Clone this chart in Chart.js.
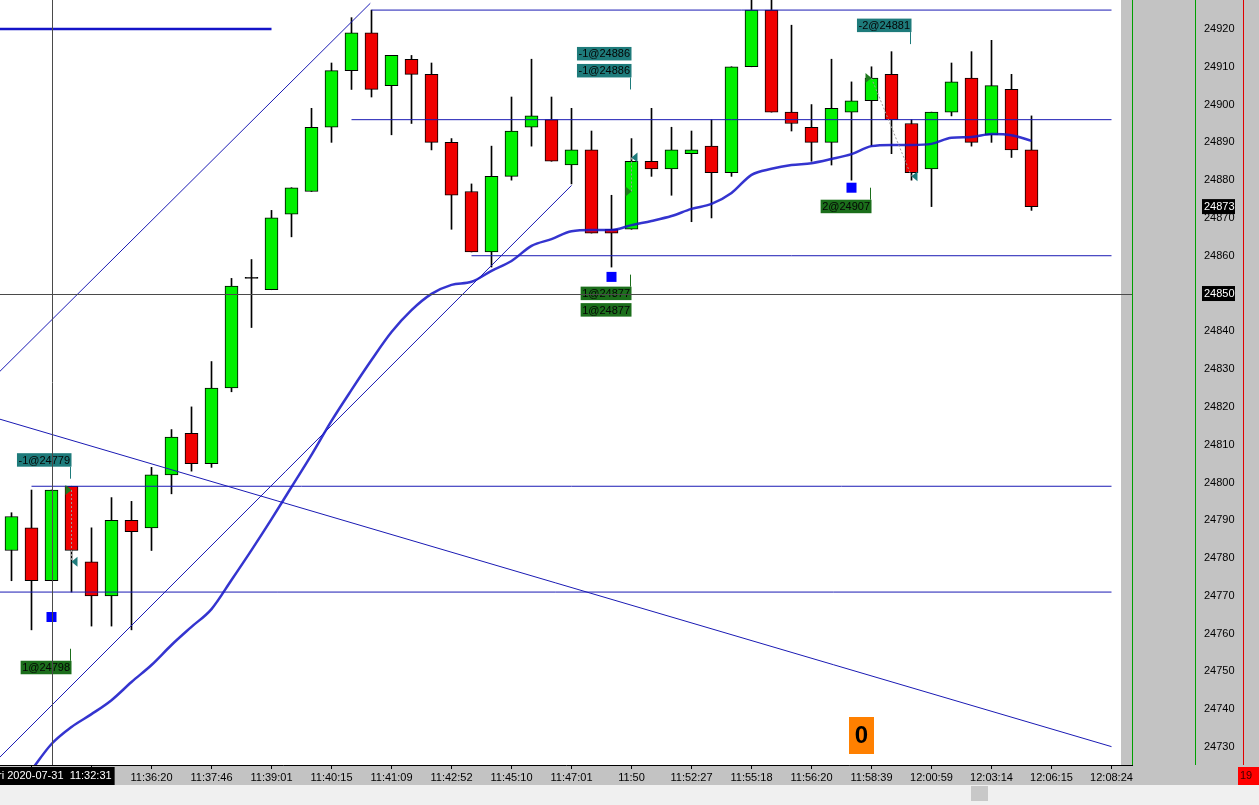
<!DOCTYPE html>
<html>
<head>
<meta charset="utf-8">
<script src="https://cdn.jsdelivr.net/npm/chart.js@4.4.0/dist/chart.umd.min.js"></script>
<style>
html, body { margin: 0; padding: 0; background: #c3c3c3; overflow: hidden; }
#contenedor { width: 1259px; height: 805px; }
</style>
</head>
<body>
<div id="contenedor"><canvas id="grafico" width="1259" height="805"></canvas></div>
<script>
// velas de 1 minuto aprox, indice 0..51
var aperturas = [24782, 24788, 24774, 24799, 24779, 24770, 24790, 24788, 24802, 24813,
    24805, 24825, 24854, 24851, 24871, 24877, 24894, 24909, 24919, 24905,
    24912, 24908, 24890, 24877, 24861, 24881, 24894, 24896, 24884, 24888,
    24867, 24867, 24885, 24883, 24887, 24889, 24882, 24910, 24925, 24898,
    24894, 24890, 24898, 24901, 24908, 24895, 24883, 24898, 24907, 24892,
    24904, 24888];
var maximos = [24792, 24798, 24798, 24799, 24788, 24796, 24795, 24804, 24814, 24820,
    24832, 24854, 24859, 24872, 24878, 24899, 24911, 24923, 24925, 24913,
    24913, 24911, 24891, 24879, 24889, 24902, 24912, 24902, 24899, 24893,
    24876, 24891, 24899, 24894, 24893, 24896, 24910, 24928, 24928, 24921,
    24900, 24912, 24906, 24910, 24914, 24896, 24898, 24911, 24914, 24917,
    24908, 24897];
var minimos = [24774, 24761, 24774, 24771, 24762, 24762, 24761, 24782, 24797, 24803,
    24804, 24824, 24841, 24851, 24865, 24877, 24890, 24904, 24902, 24892,
    24895, 24888, 24867, 24861, 24857, 24880, 24889, 24885, 24879, 24866,
    24857, 24867, 24881, 24876, 24869, 24870, 24881, 24910, 24898, 24893,
    24885, 24884, 24880, 24889, 24887, 24880, 24873, 24897, 24889, 24890,
    24886, 24872];
var cierres = [24791, 24774, 24798, 24782, 24770, 24790, 24787, 24802, 24812, 24805,
    24825, 24852, 24854, 24870, 24878, 24894, 24909, 24919, 24904, 24913,
    24908, 24890, 24876, 24861, 24881, 24893, 24897, 24885, 24888, 24866,
    24866, 24885, 24883, 24888, 24888, 24882, 24910, 24925, 24898, 24895,
    24890, 24899, 24901, 24907, 24896, 24882, 24898, 24906, 24890, 24905,
    24888, 24873];
// media movil (linea azul gruesa)
var media = [24717.0, 24723.9, 24730.8, 24735.3, 24738.7, 24742.4, 24747.2, 24751.7, 24757.0, 24761.8,
    24766.5, 24774.2, 24782.1, 24790.3, 24798.8, 24807.3, 24816.3, 24824.5, 24832.4, 24839.8,
    24845.6, 24849.9, 24852.3, 24853.1, 24856.0, 24858.6, 24862.6, 24864.4, 24866.5, 24866.8,
    24866.8, 24868.1, 24869.2, 24870.5, 24872.4, 24873.7, 24876.6, 24881.4, 24883.0, 24884.0,
    24884.5, 24885.6, 24886.9, 24889.0, 24889.3, 24889.3, 24889.6, 24891.2, 24891.4, 24892.2,
    24891.9, 24890.4];

var ticksY = [24730, 24740, 24750, 24760, 24770, 24780, 24790, 24800, 24810, 24820,
    24830, 24840, 24850, 24860, 24870, 24880, 24890, 24900, 24910, 24920];
var ticksXIdx = [1, 4, 7, 10, 13, 16, 19, 22, 25, 28, 31, 34, 37, 40, 43, 46, 49, 52, 55];
var ticksXTxt = ['', '', '11:36:20', '11:37:46', '11:39:01', '11:40:15', '11:41:09', '11:42:52',
    '11:45:10', '11:47:01', '11:50', '11:52:27', '11:55:18', '11:56:20', '11:58:39',
    '12:00:59', '12:03:14', '12:06:15', '12:08:24'];

// lineas dibujadas a mano
var horizPrecio = [24925, 24896, 24860, 24799, 24771];
var horizDesde = [18, 17, 23, 1, -1];
var horizHasta = [55, 55, 55, 55, 55];
var gruesaPrecio = 24920;
var gruesaDesde = -1;
var gruesaHasta = 13;
var diagDesde = [-1, -1, -1];
var diagPrecioDesde = [24827.2, 24725.1, 24817.4];
var diagHasta = [17.94, 28, 55];
var diagPrecioHasta = [24926.8, 24878.6, 24730.1];

// operaciones
var ordenIdx = [2, 30, 42];
var ordenPrecio = [24764.4, 24854.4, 24878.0];
var entradaIdx = [3, 31, 43];
var entradaPrecio = [24798, 24877, 24907];
var salidaIdx = [3, 31, 45];
var salidaPrecio = [24779, 24886, 24881];
var ventaTxt = ['-1@24779', '-1@24886', '-1@24886', '-2@24881'];
var ventaIdx = [3, 31, 31, 45];
var ventaPrecio = [24801, 24904, 24904, 24916];
var compraTxt = ['1@24798', '1@24877', '1@24877', '2@24907'];
var compraIdx = [3, 31, 31, 43];
var compraPrecio = [24756, 24855, 24855, 24878];

var cursorIdx = 2;
var cursorPrecio = 24850;
var cursorTxt = 'Fri 2020-07-31  11:32:31';

var FUENTE = '"Liberation Sans", Arial, sans-serif';
var VERDE = '#00f000';
var ROJO = '#f00000';
var AZUL = '#1a1ab4';

function puntos(a, b, pa, pb) {
    return [{ x: a, y: pa }, { x: b, y: pb }];
}

function etiqueta(c, txt, xDer, yArriba, color) {
    c.font = '11px ' + FUENTE;
    var w = c.measureText(txt).width + 3;
    c.fillStyle = color;
    c.fillRect(xDer - w, yArriba, w, 13.5);
    c.fillStyle = '#050505';
    c.textAlign = 'left';
    c.textBaseline = 'middle';
    c.fillText(txt, xDer - w + 1.5, yArriba + 7.5);
}

function triangulo(c, x, y, dir, color) {
    c.beginPath();
    c.moveTo(x - 6 * dir, y - 5);
    c.lineTo(x, y);
    c.lineTo(x - 6 * dir, y + 5);
    c.closePath();
    c.fillStyle = color;
    c.fill();
}

var fondo = {
    id: 'fondo',
    beforeDraw: function (chart) {
        var c = chart.ctx, a = chart.chartArea;
        c.save();
        c.fillStyle = '#c3c3c3';
        c.fillRect(0, 0, chart.width, chart.height);
        c.fillStyle = '#ffffff';
        c.fillRect(a.left, a.top, a.right - 11 - a.left, a.bottom - a.top);
        c.fillStyle = '#f0f0f0';
        c.fillRect(0, a.bottom + 20, chart.width, chart.height - a.bottom - 20);
        c.fillStyle = '#c8c8c8';
        c.fillRect(971, a.bottom + 21, 17, 15);
        c.restore();
    }
};

var marcas = {
    id: 'marcas',
    afterDatasetsDraw: function (chart) {
        var c = chart.ctx, a = chart.chartArea;
        var sx = chart.scales.x, sy = chart.scales.y;
        var i, k, x, y;
        c.save();
        c.beginPath();
        c.rect(a.left, a.top, a.right - a.left, a.bottom - a.top);
        c.clip();

        // lineas entre entrada y salida
        c.setLineDash([2, 2]);
        c.strokeStyle = '#9a9a9a';
        c.lineWidth = 1;
        for (i = 0; i < entradaIdx.length; i++) {
            c.beginPath();
            c.moveTo(sx.getPixelForValue(entradaIdx[i]), sy.getPixelForValue(entradaPrecio[i]));
            c.lineTo(sx.getPixelForValue(salidaIdx[i]), sy.getPixelForValue(salidaPrecio[i]));
            c.stroke();
        }
        c.setLineDash([]);

        for (i = 0; i < entradaIdx.length; i++) {
            triangulo(c, sx.getPixelForValue(entradaIdx[i]), sy.getPixelForValue(entradaPrecio[i]), 1, '#1f7a1f');
            triangulo(c, sx.getPixelForValue(salidaIdx[i]), sy.getPixelForValue(salidaPrecio[i]), -1, '#1e7b7b');
        }

        c.fillStyle = '#0000ff';
        for (i = 0; i < ordenIdx.length; i++) {
            x = sx.getPixelForValue(ordenIdx[i]);
            y = sy.getPixelForValue(ordenPrecio[i]);
            c.fillRect(x - 5, y - 5, 10, 10);
        }

        // etiquetas de ventas (encima)
        var vistos = {};
        for (i = 0; i < ventaTxt.length; i++) {
            k = vistos[ventaIdx[i]] || 0;
            vistos[ventaIdx[i]] = k + 1;
            x = sx.getPixelForValue(ventaIdx[i]);
            y = sy.getPixelForValue(ventaPrecio[i]);
            if (k === 0) {
                c.fillStyle = '#1e7b7b';
                c.fillRect(x - 1.5, y - 12, 1, 12);
            }
            etiqueta(c, ventaTxt[i], x, y - 12 - 13.5 - k * 17, '#1e7b7b');
        }
        vistos = {};
        for (i = 0; i < compraTxt.length; i++) {
            k = vistos[compraIdx[i]] || 0;
            vistos[compraIdx[i]] = k + 1;
            x = sx.getPixelForValue(compraIdx[i]);
            y = sy.getPixelForValue(compraPrecio[i]);
            if (k === 0) {
                c.fillStyle = '#1b6e1b';
                c.fillRect(x - 1.5, y, 1, 12);
            }
            etiqueta(c, compraTxt[i], x, y + 12 + k * 16.5, '#1b6e1b');
        }
        c.restore();

        // cursor
        c.save();
        c.strokeStyle = '#4a4a4a';
        c.lineWidth = 1;
        x = Math.round(sx.getPixelForValue(cursorIdx)) + 0.5;
        y = Math.round(sy.getPixelForValue(cursorPrecio)) + 0.5;
        c.beginPath();
        c.moveTo(x, a.top);
        c.lineTo(x, a.bottom);
        c.moveTo(a.left, y);
        c.lineTo(a.right, y);
        c.stroke();
        c.restore();
    },
    afterDraw: function (chart) {
        var c = chart.ctx, a = chart.chartArea;
        var sx = chart.scales.x, sy = chart.scales.y;
        var x, y, w;
        c.save();
        // lineas del panel derecho
        c.fillStyle = '#00a000';
        c.fillRect(a.right, 0, 1, a.bottom);
        c.fillRect(a.right + 63, 0, 1, a.bottom);
        c.fillStyle = '#e00000';
        c.fillRect(a.right + 111, 0, 1, a.bottom);

        c.font = '11px ' + FUENTE;
        c.textBaseline = 'middle';
        c.textAlign = 'left';
        // ultimo precio
        var ultimo = cierres[cierres.length - 1];
        y = sy.getPixelForValue(ultimo);
        c.fillStyle = '#000';
        c.fillRect(a.right + 70, y - 7.5, 33, 15);
        c.fillStyle = '#fff';
        c.fillText(String(ultimo), a.right + 72, y + 0.5);
        // precio del cursor
        y = sy.getPixelForValue(cursorPrecio);
        c.fillStyle = '#000';
        c.fillRect(a.right + 70, y - 7.5, 33, 15);
        c.fillStyle = '#fff';
        c.fillText(String(cursorPrecio), a.right + 72, y + 0.5);
        // hora del cursor
        x = sx.getPixelForValue(cursorIdx);
        w = c.measureText(cursorTxt).width + 6;
        c.fillStyle = '#000';
        c.fillRect(x - w / 2, a.bottom + 2, w, 18);
        c.fillStyle = '#fff';
        c.fillText(cursorTxt, x - w / 2 + 3, a.bottom + 11);
        // caja roja
        c.fillStyle = '#ff0000';
        c.fillRect(a.right + 106, a.bottom + 2, 30, 18);
        c.fillStyle = '#400000';
        c.fillText('19', a.right + 108, a.bottom + 11);
        // caja naranja (PnL)
        c.fillStyle = '#ff8000';
        c.fillRect(849, a.bottom - 48, 25, 37);
        c.fillStyle = '#000';
        c.font = 'bold 24px ' + FUENTE;
        c.textAlign = 'center';
        c.fillText('0', 861.5, a.bottom - 29);
        c.restore();
    }
};

var datasets = [];
datasets.push({
    type: 'bar',
    label: 'mechas',
    data: maximos.map(function (h, i) { return { x: i, y: [minimos[i], h] }; }),
    backgroundColor: '#000',
    barThickness: 1,
    grouped: false,
    order: 6
});
datasets.push({
    type: 'bar',
    label: 'velas',
    data: aperturas.map(function (o, i) { return { x: i, y: [o, cierres[i]] }; }),
    backgroundColor: aperturas.map(function (o, i) {
        if (cierres[i] > o) return VERDE;
        if (cierres[i] < o) return ROJO;
        return '#000';
    }),
    borderColor: '#000',
    borderWidth: 1,
    borderSkipped: false,
    minBarLength: 1,
    barThickness: 13,
    grouped: false,
    order: 5
});
for (var h = 0; h < horizPrecio.length; h++) {
    datasets.push({
        type: 'line',
        data: puntos(horizDesde[h], horizHasta[h], horizPrecio[h], horizPrecio[h]),
        borderColor: AZUL, borderWidth: 1, pointRadius: 0, order: 3
    });
}
for (var d = 0; d < diagDesde.length; d++) {
    datasets.push({
        type: 'line',
        data: puntos(diagDesde[d], diagHasta[d], diagPrecioDesde[d], diagPrecioHasta[d]),
        borderColor: AZUL, borderWidth: 1, pointRadius: 0, order: 3
    });
}
datasets.push({
    type: 'line',
    data: puntos(gruesaDesde, gruesaHasta, gruesaPrecio, gruesaPrecio),
    borderColor: '#1414c8', borderWidth: 2.5, pointRadius: 0, order: 2
});
datasets.push({
    type: 'line',
    label: 'media',
    data: media.map(function (v, i) { return { x: i, y: v }; }),
    borderColor: 'rgba(24, 24, 200, 0.88)',
    borderWidth: 2.5,
    pointRadius: 0,
    cubicInterpolationMode: 'monotone',
    order: 1
});

var ctx = document.getElementById('grafico').getContext('2d');
var chart = new Chart(ctx, {
    type: 'bar',
    data: { datasets: datasets },
    options: {
        responsive: false,
        animation: false,
        devicePixelRatio: 1,
        events: [],
        layout: { autoPadding: false, padding: 0 },
        plugins: { legend: { display: false }, tooltip: { enabled: false } },
        scales: {
            x: {
                type: 'linear',
                min: -0.575,
                max: 56.025,
                offset: false,
                grid: { display: true, drawOnChartArea: false, drawTicks: true, tickLength: 4, color: '#000', offset: false },
                border: { display: true, color: '#000', width: 1 },
                ticks: {
                    autoSkip: false, maxRotation: 0, padding: 2, color: '#000',
                    font: { family: FUENTE, size: 11 },
                    callback: function (v) {
                        var k = ticksXIdx.indexOf(v);
                        return k < 0 ? '' : ticksXTxt[k];
                    }
                },
                afterBuildTicks: function (s) {
                    s.ticks = ticksXIdx.map(function (v) { return { value: v }; });
                },
                afterFit: function (s) {
                    s.height = 40;
                    s.paddingLeft = 0; s.paddingRight = 0;
                    s.paddingTop = 0; s.paddingBottom = 0;
                }
            },
            y: {
                type: 'linear',
                position: 'right',
                min: 24725.24,
                max: 24927.67,
                beginAtZero: false,
                grid: { display: false, drawTicks: false },
                border: { display: false },
                ticks: {
                    padding: 72, color: '#000', crossAlign: 'near',
                    font: { family: FUENTE, size: 11 },
                    callback: function (v) { return String(v); }
                },
                afterBuildTicks: function (s) {
                    s.ticks = ticksY.map(function (v) { return { value: v }; });
                },
                afterFit: function (s) {
                    s.width = 127;
                    s.paddingTop = 0; s.paddingBottom = 0;
                    s.paddingLeft = 0; s.paddingRight = 0;
                }
            }
        }
    },
    plugins: [fondo, marcas]
});
</script>
</body>
</html>
